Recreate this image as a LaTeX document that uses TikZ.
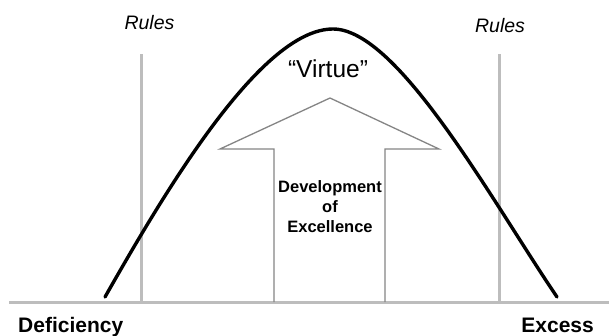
\documentclass[tikz,border=0pt]{standalone}
\usepackage{fontspec}
\setmainfont{Liberation Sans}
\begin{document}
\begin{tikzpicture}[x=1pt,y=-1pt,
  rule/.style={draw=ruleGray,line width=3pt},
  axis/.style={draw=ruleGray,line width=3pt},
  curve/.style={draw=black,line width=3.4pt,line cap=round},
  arrowbox/.style={draw=arrowGray,line width=1.3pt,line join=miter},
  lbl/.style={inner sep=0pt,anchor=base}]
\definecolor{ruleGray}{HTML}{BDBDBD}
\definecolor{arrowGray}{HTML}{858585}
\useasboundingbox[fill=white] (0,0) rectangle (609,335);

% horizontal scale
\coordinate (axL) at (9,302);
\coordinate (axR) at (609,302);
\draw[axis] (axL) -- (axR);

% rule lines
\coordinate (r1top) at (141,54);
\coordinate (r1bot) at (141,301);
\coordinate (r2top) at (499,54);
\coordinate (r2bot) at (499,301);
\draw[rule] (r1top) -- (r1bot);
\draw[rule] (r2top) -- (r2bot);

% block arrow
\coordinate (a1) at (274,302);
\coordinate (a2) at (274,149);
\coordinate (a3) at (220,149);
\coordinate (tip) at (330,98);
\coordinate (a5) at (439,149);
\coordinate (a6) at (385,149);
\coordinate (a7) at (385,302);
\draw[arrowbox] (a1) -- (a2) -- (a3) -- (tip) -- (a5) -- (a6) -- (a7);

% bell curve
\coordinate (cL) at (105,297);
\coordinate (cTop) at (333,29);
\coordinate (cR) at (557,297);
\draw[curve] (cL) .. controls (168,186) and (262,29) .. (cTop)
                  .. controls (398,29) and (492,201) .. (cR);

% labels
\node[lbl,font=\fontsize{19.5}{22}\selectfont\itshape] (rulesL) at (149.5,29) {Rules};
\node[lbl,font=\fontsize{19.5}{22}\selectfont\itshape] (rulesR) at (500,32) {Rules};
\node[lbl,font=\fontsize{24.5}{28}\selectfont] (virtue) at (328,77) {“Virtue”};
\node[inner sep=0pt,align=center,font=\fontsize{16.5}{20}\selectfont\bfseries] (dev) at (330,207)
  {Development\\of\\Excellence};
\node[lbl,font=\fontsize{21}{24}\selectfont\bfseries,anchor=base west] (def) at (18,332) {Deficiency};
\node[lbl,font=\fontsize{21}{24}\selectfont\bfseries,anchor=base east] (exc) at (594,332) {Excess};
\end{tikzpicture}
\end{document}
